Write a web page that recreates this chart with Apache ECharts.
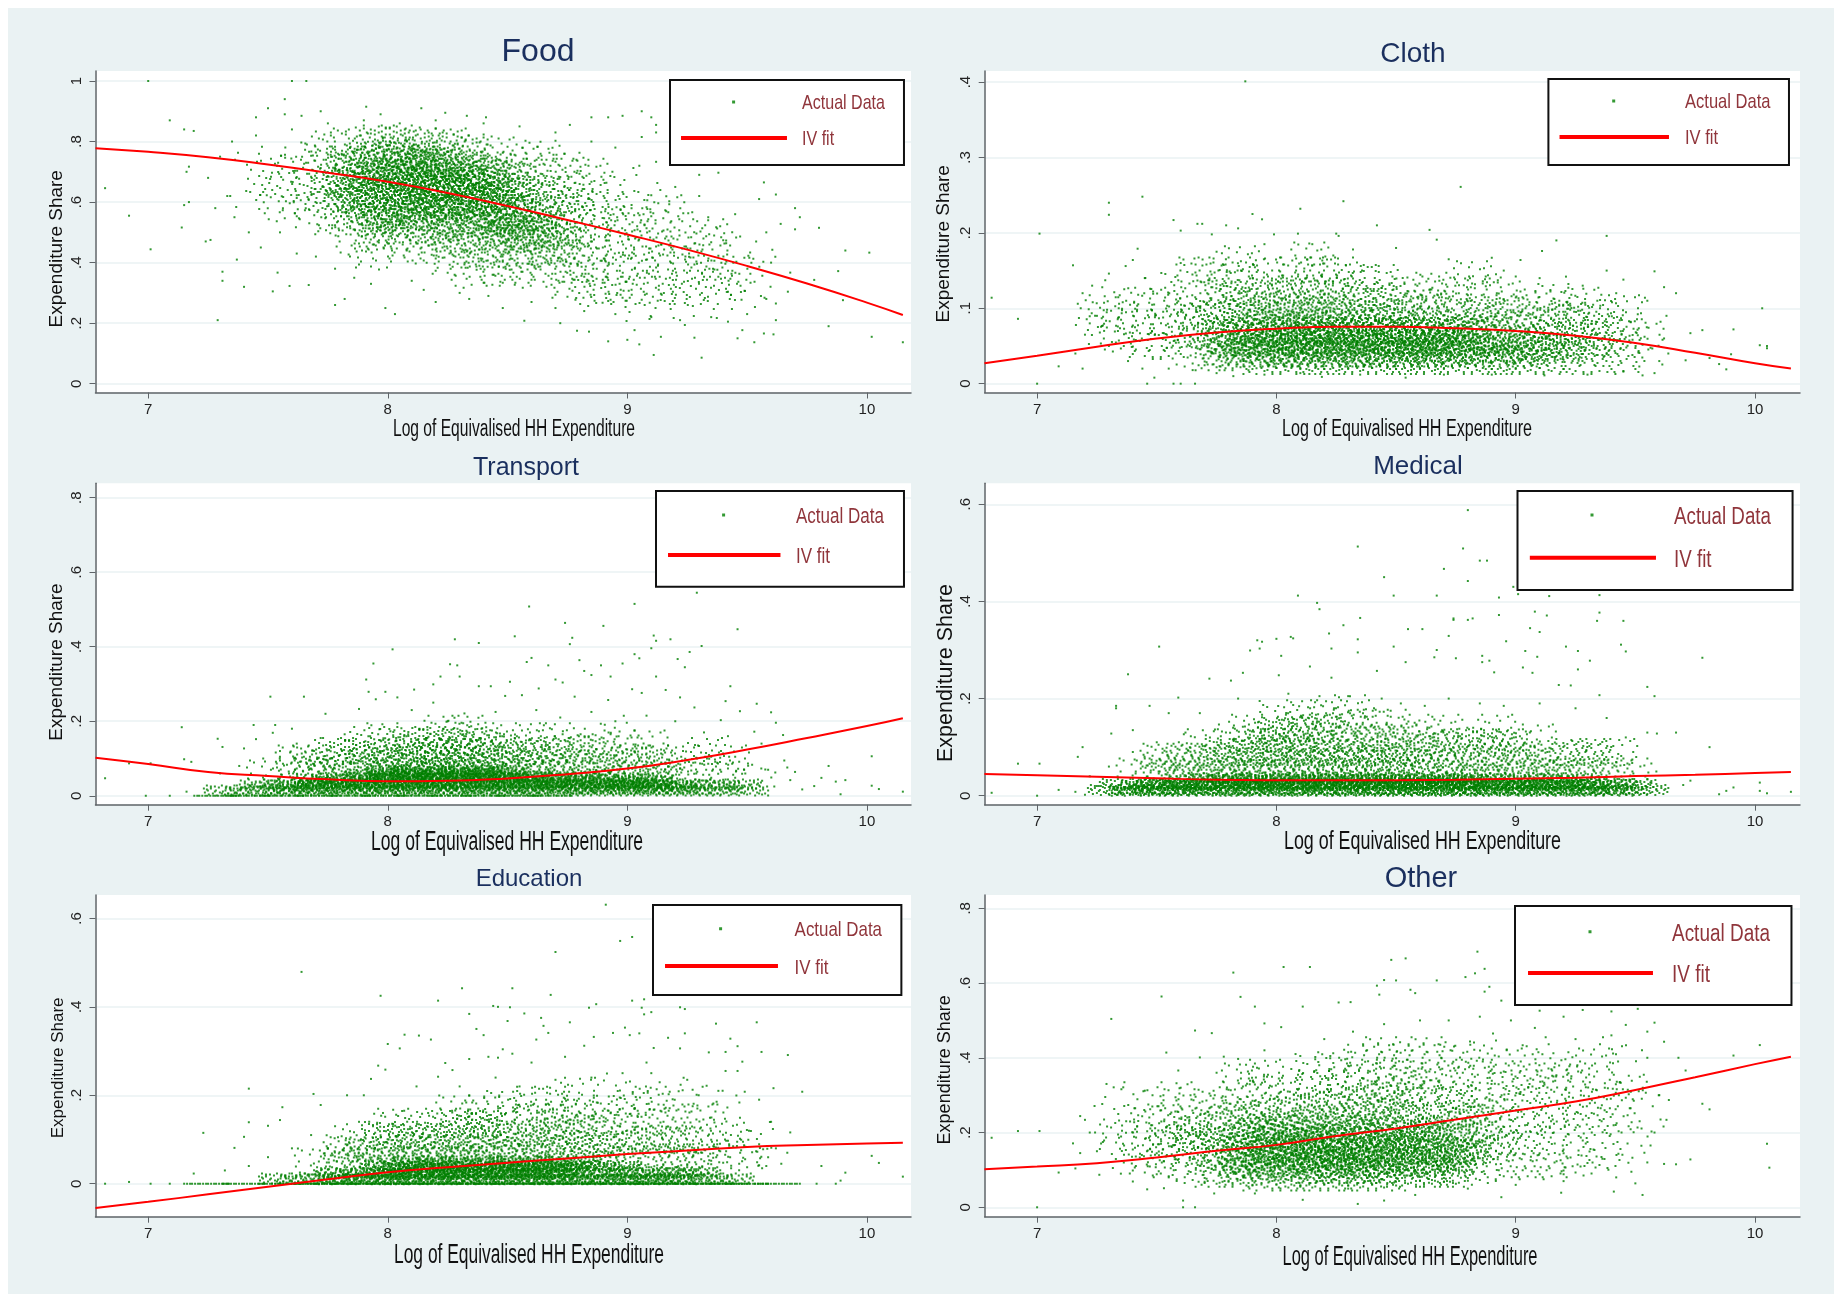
<!DOCTYPE html>
<html><head><meta charset="utf-8">
<style>html,body{margin:0;padding:0;background:#fff}#c{width:1834px;height:1294px}</style>
<script src="https://cdn.jsdelivr.net/npm/echarts@6/dist/echarts.min.js"></script>
</head><body><div id="c"></div>
<script>
// ---------- values (flat x,y,x,y lists) ----------
const xTicks=[7,8,9,10];
const fitX=[6.78,7,7.25,7.5,7.75,8,8.25,8.5,8.75,9,9.25,9.5,9.75,10,10.15];
const foodFit=[.778,.766,.748,.724,.697,.667,.63,.587,.541,.493,.443,.389,.331,.268,.227];
const clothFit=[.027,.037,.049,.06,.068,.073,.0756,.0756,.0734,.07,.0637,.054,.041,.027,.02];
const transportFit=[.102,.085,.0635,.053,.044,.039,.04,.0465,.058,.073,.096,.124,.155,.187,.208];
const medicalFit=[.0446,.042,.039,.0357,.033,.032,.0318,.032,.033,.035,.037,.0405,.043,.0467,.0487];
const educationFit=[-.055,-.041,-.024,-.007,.01,.026,.037,.0475,.057,.067,.075,.083,.0875,.091,.0927];
const otherFit=[.102,.109,.118,.133,.151,.167,.191,.211,.235,.259,.283,.314,.348,.383,.403];
const foodTicks=[0,.2,.4,.6,.8,1],clothTicks=[0,.1,.2,.3,.4],transportTicks=[0,.2,.4,.6,.8],medicalTicks=[0,.2,.4,.6],educationTicks=[0,.2,.4,.6],otherTicks=[0,.2,.4,.6,.8];

const foodPoints=[7,1,7.6,1,7.66,1,7.57,.94,7.5,.91,7.09,.87,7.15,.84,7.19,.835,7.45,.88,7.57,.89,7.64,.885,7.72,.9,7.91,.915,7.97,.89,8.14,.91,8.24,.895,8.33,.885,8.41,.88,8.85,.88,8.92,.88,8.98,.885,9.06,.9,9.1,.88,9.12,.855,8.76,.855,6.82,.646,6.92,.555,7.01,.444,7.14,.516,7.15,.59,7.17,.6,7.17,.717,7.16,.7,7.24,.47,7.26,.475,7.31,.37,7.31,.34,7.4,.32,7.29,.21,7.37,.41,7.52,.305,7.54,.367,7.59,.323,7.67,.326,7.78,.26,7.82,.28,7.99,.25,8.03,.23,8.2,.27,8.34,.28,8.48,.25,8.57,.208,8.72,.2,8.79,.175,8.84,.172,8.92,.14,9,.145,9.05,.13,9.11,.095,9.03,.177,9.14,.155,9.24,.194,9.28,.152,9.31,.086,9.42,.205,9.46,.15,9.53,.137,9.57,.166,9.61,.163,9.62,.21,9.48,.177,9.62,.265,9.67,.304,9.68,.367,9.78,.343,9.88,.372,9.9,.276,9.84,.19,10.02,.155,10.15,.137,9.91,.44,10.01,.433,9.8,.515,9.7,.51,9.72,.55,9.7,.58,9.64,.528,9.62,.625,9.57,.665,9.55,.61,9.38,.697,9.3,.69,9.12,.733,9.06,.815,9.12,.83,7.3,.75,7.25,.68,7.33,.62,7.28,.58,7.36,.55,7.42,.5,7.47,.45,7.55,.5,7.62,.43,7.7,.42,7.78,.38,7.86,.35,7.93,.33,8.1,.34,8.15,.31,8.3,.3,8.42,.29,8.6,.27,8.7,.25,8.82,.24,8.95,.23,9.1,.22,9.22,.21,9.35,.22,9.5,.23,9.58,.28,9.6,.4,9.58,.5,9.45,.56,9.3,.62,9.2,.65,9.05,.72,8.95,.78,8.85,.8,8.7,.83,8.55,.85,8.4,.86,8.2,.87,8.05,.86,7.9,.87,7.75,.86,7.6,.84,7.45,.82,7.35,.8];
const foodCore=[7.45,.72,7.43,.62,7.55,.74,7.53,.66,7.57,.58,7.66,.78,7.63,.71,7.67,.64,7.65,.56,7.75,.79,7.73,.73,7.77,.67,7.74,.61,7.76,.53,7.85,.8,7.83,.74,7.87,.7,7.84,.66,7.86,.61,7.83,.55,7.87,.47,7.95,.81,7.93,.76,7.97,.72,7.94,.68,7.96,.64,7.93,.6,7.97,.55,7.95,.49,7.93,.42,8.05,.81,8.03,.77,8.07,.73,8.04,.7,8.06,.67,8.03,.64,8.07,.6,8.05,.56,8.03,.51,8.07,.45,8.15,.8,8.13,.76,8.17,.73,8.14,.7,8.16,.67,8.13,.64,8.17,.61,8.15,.58,8.13,.54,8.17,.49,8.15,.44,8.25,.8,8.23,.75,8.27,.71,8.24,.68,8.26,.65,8.23,.62,8.27,.59,8.25,.55,8.23,.51,8.27,.46,8.25,.4,8.35,.78,8.33,.73,8.37,.69,8.34,.66,8.36,.63,8.33,.6,8.37,.56,8.35,.52,8.33,.47,8.37,.42,8.35,.36,8.45,.77,8.43,.72,8.47,.68,8.44,.64,8.46,.6,8.43,.56,8.47,.52,8.45,.48,8.43,.43,8.47,.37,8.55,.74,8.53,.7,8.57,.65,8.54,.6,8.56,.55,8.53,.51,8.57,.47,8.55,.42,8.53,.36,8.65,.76,8.63,.7,8.67,.64,8.64,.58,8.66,.53,8.63,.48,8.67,.43,8.65,.37,8.75,.72,8.73,.66,8.77,.6,8.74,.54,8.76,.49,8.73,.44,8.77,.38,8.75,.32,8.85,.7,8.83,.62,8.87,.55,8.84,.49,8.86,.43,8.83,.37,8.87,.3,8.95,.67,8.93,.59,8.97,.52,8.94,.45,8.96,.38,8.93,.31,9.05,.62,9.03,.54,9.07,.46,9.04,.39,9.06,.31,9.03,.25,9.15,.58,9.13,.49,9.17,.41,9.14,.33,9.16,.26,9.25,.55,9.23,.46,9.27,.38,9.24,.3,9.35,.5,9.33,.42,9.37,.33,9.34,.26,9.45,.47,9.43,.38,9.47,.29,9.53,.4,9.51,.32];
const foodDense=[7.82,.72,7.88,.67,7.82,.63,7.88,.58,7.92,.74,7.98,.7,7.92,.66,7.98,.62,7.92,.57,7.98,.53,8.02,.75,8.08,.72,8.02,.68,8.08,.65,8.02,.62,8.08,.58,8.02,.54,8.12,.74,8.18,.71,8.12,.68,8.18,.65,8.12,.62,8.18,.59,8.12,.55,8.22,.73,8.28,.7,8.22,.67,8.28,.64,8.22,.6,8.28,.57,8.22,.53,8.32,.7,8.38,.67,8.32,.65,8.38,.61,8.32,.58,8.38,.54,8.42,.69,8.48,.65,8.42,.62,8.48,.58,8.42,.54,8.48,.5,8.52,.62,8.58,.58,8.52,.53,8.58,.49,8.62,.55,8.68,.5];

const clothPoints=[7.87,.401,8.77,.261,7.44,.248,7.3,.24,7.3,.224,8.28,.242,8.1,.232,7.9,.225,7.94,.218,7.57,.217,7.6,.203,7.01,.199,7.67,.212,7.69,.212,7.79,.21,7.84,.206,7.73,.198,7.99,.198,8.09,.199,8.25,.199,8.26,.196,8.42,.21,8.64,.204,8.67,.191,9.17,.19,9.38,.196,7.42,.179,7.15,.157,6.81,.114,6.92,.086,7.09,.023,7,0,7.19,.02,7.16,.04,7.46,0,7.57,0,7.6,0,7.66,0,7.49,.008,7.19,.12,7.17,.106,7.23,.13,7.3,.146,7.37,.156,7.4,.164,9.11,.176,8.9,.167,9.02,.164,9.38,.15,9.58,.149,9.45,.138,9.62,.128,9.67,.12,9.21,.142,9.54,.114,10.03,.1,9.78,.071,9.91,.072,9.73,.067,10.02,.051,10.05,.05,10.05,.047,9.9,.039,9.81,.034,9.85,.026,9.88,.019,9.71,.031,9.58,.014,9.53,.011,9.12,.011,8.54,.008,8.19,.009,7.82,.01,7.25,.09,7.28,.07,7.22,.08,7.2,.065,7.3,.05,7.38,.03,7.44,.02,7.55,.02,7.65,.018,7.75,.014,7.95,.012,8.1,.014,8.35,.012,8.7,.012,8.9,.012,9.3,.012,9.45,.016,9.6,.03,9.62,.06,9.63,.09,9.55,.11,9.42,.12,9.28,.13,9.1,.14,8.95,.15,8.72,.165,8.5,.18,8.32,.178,8.15,.185,7.95,.185,7.75,.175,7.6,.16,7.45,.14];
const clothCore=[7.25,.07,7.27,.1,7.35,.06,7.33,.09,7.36,.12,7.45,.05,7.43,.08,7.46,.11,7.55,.05,7.53,.08,7.56,.105,7.54,.14,7.65,.04,7.63,.065,7.66,.09,7.64,.12,7.67,.15,7.75,.035,7.73,.055,7.76,.075,7.74,.095,7.77,.12,7.75,.15,7.85,.035,7.83,.05,7.86,.065,7.84,.08,7.87,.095,7.85,.115,7.83,.14,7.86,.165,7.95,.03,7.93,.045,7.96,.055,7.94,.065,7.97,.075,7.95,.09,7.93,.105,7.96,.125,7.94,.15,8.05,.03,8.03,.04,8.06,.05,8.04,.06,8.07,.07,8.05,.08,8.03,.09,8.06,.105,8.04,.125,8.07,.15,8.15,.03,8.13,.04,8.16,.05,8.14,.06,8.17,.07,8.15,.08,8.13,.09,8.16,.105,8.14,.125,8.17,.15,8.15,.17,8.25,.03,8.23,.04,8.26,.05,8.24,.06,8.27,.07,8.25,.08,8.23,.09,8.26,.105,8.24,.125,8.27,.15,8.35,.03,8.33,.04,8.36,.05,8.34,.06,8.37,.07,8.35,.08,8.33,.095,8.36,.115,8.34,.14,8.45,.03,8.43,.04,8.46,.05,8.44,.06,8.47,.07,8.45,.08,8.43,.095,8.46,.115,8.44,.14,8.55,.03,8.53,.04,8.56,.05,8.54,.06,8.57,.07,8.55,.085,8.53,.1,8.56,.125,8.65,.03,8.63,.04,8.66,.05,8.64,.06,8.67,.07,8.65,.085,8.63,.105,8.66,.13,8.75,.03,8.73,.045,8.76,.055,8.74,.065,8.77,.08,8.75,.1,8.73,.125,8.85,.03,8.83,.045,8.86,.06,8.84,.075,8.87,.095,8.85,.12,8.83,.145,8.95,.03,8.93,.045,8.96,.06,8.94,.08,8.97,.1,8.95,.125,9.05,.03,9.03,.045,9.06,.06,9.04,.08,9.07,.105,9.15,.03,9.13,.05,9.16,.07,9.14,.09,9.17,.115,9.25,.03,9.23,.05,9.26,.065,9.24,.09,9.27,.11,9.35,.03,9.33,.05,9.36,.07,9.34,.095,9.45,.03,9.43,.05,9.46,.075,9.44,.1,9.55,.04,9.53,.065];
const clothDense=[7.8,.04,7.9,.055,8,.04,8.1,.055,8.2,.04,8.3,.055,8.4,.04,8.5,.055,8.6,.04,8.7,.055,8.8,.04,8.9,.055,9,.04,7.8,.07,7.9,.04,8,.07,8.1,.04,8.2,.07,8.3,.04,8.4,.07,8.5,.04,8.6,.07,8.7,.04,8.8,.07,8.9,.04,9,.06,7.8,.055,7.9,.07,8,.055,8.1,.07,8.2,.055,8.3,.07,8.4,.055,8.5,.07,8.6,.055,8.7,.07,8.8,.055,9.1,.05,9.2,.045];

const transportPoints=[9.29,.545,8.59,.508,9.03,.515,8.74,.464,8.9,.456,9.46,.447,8.53,.428,8.28,.42,8.38,.41,8.77,.424,8.76,.407,9.11,.43,9.12,.416,9.18,.42,9.1,.396,9.31,.402,8.02,.393,9.03,.38,9.26,.386,7.94,.355,8.26,.353,8.29,.35,8.58,.359,8.6,.37,8.67,.35,8.8,.364,9.21,.367,9.24,.345,8.89,.35,8.98,.355,9.05,.369,8.22,.32,7.91,.312,8.3,.32,9.12,.32,8.93,.32,8.85,.324,8.82,.335,8.7,.312,8.73,.304,8.51,.306,9.43,.294,7.92,.279,7.99,.279,8.11,.285,8.19,.299,8.38,.294,8.43,.294,8.63,.288,9.02,.286,9.16,.284,9.06,.276,7.51,.266,7.65,.266,9.22,.264,8.04,.264,7.95,.259,8.19,.25,8.49,.268,8.56,.27,8.78,.266,8.92,.257,9.41,.254,9.54,.247,9.6,.224,9.47,.227,7.74,.22,7.88,.233,8.32,.221,9.28,.237,9.39,.203,9.62,.196,7.14,.184,7.44,.19,7.53,.19,7.29,.153,7.52,.169,7.6,.18,7.45,.152,7.31,.131,7.4,.127,7.15,.098,7.18,.091,6.82,.047,6.92,.087,7.01,.087,6.99,0,7.09,0,7.16,.011,10.02,.106,9.84,.08,9.7,.064,9.81,.048,9.91,.042,9.87,.038,10.02,.027,10.05,.018,10.15,.011,9.89,.004,9.73,.017,9.78,.026,9.68,.042,9.65,.163,9.53,.172,8.1,.23,8.25,.2,8.45,.225,8.62,.23,8.72,.21,8.85,.225,8.95,.2,9.08,.215,9.2,.2,9.32,.17,9.42,.16,9.56,.14,7.82,.165,7.72,.155,7.62,.14,7.55,.12,7.48,.1,7.38,.08,7.3,.06];
const transportCore=[7.5,.06,7.6,.07,7.62,.1,7.7,.07,7.68,.1,7.8,.06,7.82,.09,7.78,.12,7.9,.06,7.92,.09,7.88,.12,7.91,.15,8,.06,8.02,.08,7.98,.1,8.01,.13,7.99,.16,8.1,.06,8.12,.08,8.08,.1,8.11,.12,8.09,.15,8.2,.06,8.22,.08,8.18,.1,8.21,.12,8.19,.15,8.22,.18,8.3,.06,8.32,.08,8.28,.1,8.31,.12,8.29,.15,8.32,.18,8.4,.06,8.42,.08,8.38,.1,8.41,.13,8.39,.16,8.5,.06,8.52,.085,8.48,.11,8.51,.14,8.6,.06,8.62,.09,8.58,.12,8.61,.16,8.7,.06,8.72,.09,8.68,.12,8.71,.16,8.8,.06,8.82,.09,8.78,.13,8.9,.06,8.92,.09,8.88,.13,8.91,.18,9,.06,9.02,.1,8.98,.14,9.1,.06,9.12,.1,9.08,.14,9.2,.06,9.22,.1,9.3,.07,9.32,.12,9.4,.07,9.42,.1,9.5,.07,9.58,.06];
const transportBase=[7.32,.014,7.41,.014,7.5,.014,7.59,.014,7.68,.014,7.77,.014,7.86,.014,7.95,.014,8.04,.014,8.13,.014,8.22,.014,8.31,.014,8.4,.014,8.49,.014,8.58,.014,8.67,.014,8.76,.014,8.85,.014,8.94,.014,9.03,.014,9.12,.014,9.21,.014,9.3,.014,9.39,.014,9.5,.014,7.47,.03,7.56,.03,7.65,.03,7.74,.03,7.83,.03,7.92,.03,8.01,.03,8.1,.03,8.19,.03,8.28,.03,8.37,.03,8.46,.03,8.55,.03,8.64,.03,8.73,.03,8.82,.03,8.91,.03,9,.03,9.09,.03,9.18,.03,9.27,.03,9.36,.03,9.47,.03,7.68,.046,7.77,.046,7.86,.046,7.95,.046,8.04,.046,8.13,.046,8.22,.046,8.31,.046,8.4,.046,8.49,.046,8.58,.046,8.67,.046,8.76,.046,8.85,.046,8.94,.046,9.03,.046,9.12,.046,8,.06,8.09,.06,8.18,.06,8.27,.06,8.36,.06,8.45,.06];
const transportDense=[7.9,.02,8,.02,8.1,.02,8.2,.02,8.3,.02,8.4,.02,8.5,.02,8.6,.02,8.7,.02,7.9,.036,8,.036,8.1,.036,8.2,.036,8.3,.036,8.4,.036,8.5,.036,8.6,.036,8.7,.036,7.9,.052,8,.052,8.1,.052,8.2,.052,8.3,.052,8.4,.052,8.5,.052,8.6,.052,8.7,.052,8,.066,8.1,.066,8.2,.066,8.3,.066,8.4,.066,8.5,.066,7.6,.02,7.7,.02,7.8,.02,8.8,.02,8.9,.02,9,.02,9.1,.02,9.2,.02,7.7,.036,7.8,.036,8.8,.036,8.9,.036,9,.036,9.1,.036];
const transportZero=[7.28,7.42,7.56,7.7,7.84,7.98,8.12,8.26,8.4,8.54,8.68];

const medicalPoints=[8.8,.588,8.34,.513,8.78,.509,8.85,.484,8.88,.484,8.7,.467,8.45,.45,8.8,.442,8.99,.43,8.09,.412,8.49,.412,8.67,.412,8.93,.408,9.01,.415,9.14,.411,9.35,.413,8.17,.397,8.18,.384,9.08,.379,9.35,.377,8.35,.366,8.93,.372,9.13,.371,8.74,.365,8.74,.362,8.8,.362,8.82,.365,9.34,.36,9.45,.36,8.28,.351,8.55,.343,8.61,.343,9.06,.345,9.1,.337,8.22,.334,8.06,.327,8.07,.324,8.72,.329,7.92,.32,7.94,.317,8.34,.322,8,.323,7.51,.307,8.49,.307,8.96,.318,9.21,.307,9.44,.311,7.89,.299,7.93,.303,8.23,.303,8.34,.295,8.67,.3,9.04,.298,9.26,.298,9.46,.297,8.02,.288,8.66,.285,8.75,.283,8.86,.288,9.09,.286,9.31,.278,9.78,.284,8.89,.278,8.86,.275,8.54,.275,8.14,.266,7.38,.25,7.86,.253,8.42,.257,8.91,.254,9.26,.26,9.03,.264,7.72,.241,7.81,.237,8.23,.243,8.01,.248,9.07,.253,9.55,.224,9.58,.205,9.18,.228,9.23,.227,9.35,.207,7.59,.202,7.33,.185,7.33,.18,7.47,.185,7.55,.17,6.92,.066,7.01,.066,6.81,.006,7,0,7.09,.012,7.17,.08,7.19,.1,7.31,.128,7.4,.135,9.81,.1,9.67,.13,9.59,.128,9.73,.031,9.7,.022,9.91,.017,10.02,.027,10.02,.01,10.05,.005,9.88,.01,9.85,.003,10.15,.008,7.84,.2,7.93,.195,8.05,.21,8.18,.205,8.3,.205,8.44,.2,8.52,.19,8.62,.185,8.72,.2,8.85,.19,8.95,.185,9.1,.19,9.25,.18,9.38,.16,9.46,.12,9.55,.13,7.68,.17,7.62,.13,7.5,.11,7.4,.09,7.3,.06,7.22,.04,7.16,.008,7.2,.002,7.25,.02];
const medicalCore=[7.42,.05,7.5,.05,7.52,.08,7.6,.05,7.62,.08,7.7,.05,7.72,.08,7.68,.11,7.8,.05,7.82,.07,7.78,.09,7.81,.12,7.9,.05,7.92,.07,7.88,.09,7.91,.115,7.89,.14,8,.05,8.02,.07,7.98,.09,8.01,.11,7.99,.135,8.02,.16,8.1,.05,8.12,.07,8.08,.09,8.11,.11,8.09,.14,8.12,.17,8.2,.05,8.22,.07,8.18,.09,8.21,.115,8.19,.14,8.22,.17,8.3,.05,8.32,.07,8.28,.09,8.31,.12,8.29,.15,8.32,.18,8.4,.05,8.42,.07,8.38,.09,8.41,.12,8.39,.15,8.5,.05,8.52,.07,8.48,.09,8.51,.12,8.49,.15,8.6,.05,8.62,.075,8.58,.1,8.61,.13,8.7,.05,8.72,.08,8.68,.11,8.71,.14,8.8,.05,8.82,.08,8.78,.11,8.9,.05,8.92,.08,8.88,.11,8.91,.14,9,.05,9.02,.08,8.98,.11,9.1,.05,9.12,.08,9.08,.12,9.2,.05,9.22,.09,9.3,.05,9.32,.09,9.4,.05,9.42,.09,9.5,.05];
const medicalBase=[7.3,.012,7.39,.012,7.48,.012,7.57,.012,7.66,.012,7.75,.012,7.84,.012,7.93,.012,8.02,.012,8.11,.012,8.2,.012,8.29,.012,8.38,.012,8.47,.012,8.56,.012,8.65,.012,8.74,.012,8.83,.012,8.92,.012,9.01,.012,9.1,.012,9.19,.012,9.28,.012,9.37,.012,9.46,.012,9.55,.012,7.35,.024,7.44,.024,7.53,.024,7.62,.024,7.71,.024,7.8,.024,7.89,.024,7.98,.024,8.07,.024,8.16,.024,8.25,.024,8.34,.024,8.43,.024,8.52,.024,8.61,.024,8.7,.024,8.79,.024,8.88,.024,8.97,.024,9.06,.024,9.15,.024,9.24,.024,9.33,.024,9.42,.024,9.5,.024,7.62,.036,7.71,.036,7.8,.036,7.89,.036,7.98,.036,8.07,.036,8.16,.036,8.25,.036,8.34,.036,8.43,.036,8.52,.036,8.61,.036,8.7,.036,8.79,.036,8.88,.036,8.97,.036,9.06,.036,9.15,.036,9.26,.036];
const medicalDense=[7.8,.01,7.9,.01,8,.01,8.1,.01,8.2,.01,8.3,.01,8.4,.01,8.5,.01,8.6,.01,8.7,.01,8.8,.01,7.8,.022,7.9,.022,8,.022,8.1,.022,8.2,.022,8.3,.022,8.4,.022,8.5,.022,8.6,.022,8.7,.022,8.8,.022,7.8,.032,7.9,.032,8,.032,8.1,.032,8.2,.032,8.3,.032,8.4,.032,8.5,.032,8.6,.032,8.7,.032,8.8,.032,7.4,.01,7.5,.01,7.6,.01,7.7,.01,8.9,.01,9,.01,9.1,.01,9.2,.01,9.3,.01,9.4,.01,7.5,.022,7.6,.022,7.7,.022,8.9,.022,9,.022,9.1,.022,9.2,.022,9.3,.022];

const educationPoints=[8.91,.631,8.97,.549,9.02,.558,8.7,.524,7.64,.479,8.31,.442,8.52,.442,8.68,.427,7.97,.425,8.21,.414,9.07,.417,9.02,.414,8.44,.402,8.46,.4,8.51,.399,8.84,.398,8.87,.406,9.06,.398,9.22,.399,9.24,.395,8.34,.384,9.07,.383,9.1,.388,8.57,.385,8.64,.375,8.5,.368,8.76,.365,8.65,.357,9.37,.362,9.54,.365,8.99,.353,8.37,.35,8.67,.341,8.94,.341,8.07,.337,8.13,.335,8.4,.336,9.05,.34,9.01,.336,9.24,.34,8.18,.326,8.86,.332,9.17,.33,9.43,.328,8,.316,8.05,.306,8.82,.312,8.62,.326,9.11,.307,9.22,.306,9.46,.311,8.48,.304,8.52,.294,9.56,.298,9.67,.291,9.41,.298,9.34,.297,8.34,.282,8.42,.287,8.46,.285,8.74,.287,7.96,.267,8.24,.273,7.99,.258,8.6,.274,9.08,.274,9.48,.276,9.46,.255,9.41,.255,7.93,.237,8.27,.257,8.21,.242,7.42,.215,7.69,.203,9.61,.216,9.73,.208,9.49,.208,7.56,.173,7.83,.2,7.9,.2,7.72,.178,7.42,.139,7.55,.144,7.23,.115,7.5,.131,7.4,.106,7.36,.081,9.68,.116,9.81,.04,10.02,.063,10.05,.047,9.91,.025,10.15,.016,9.89,.007,7.19,.023,6.92,.004,6.82,0,7.01,0,7.09,0,7.15,0,9.72,0,9.79,0,9.87,0,8.12,.22,8.3,.22,8.45,.24,8.55,.22,8.7,.235,8.85,.24,8.98,.25,9.1,.25,9.25,.235,9.38,.21,9.55,.19,9.6,.14,9.62,.08,9.58,.04,7.98,.16,7.88,.14,7.78,.13,7.68,.11,7.6,.08,7.5,.06,7.42,.04,7.32,.03];
const educationCore=[7.7,.05,7.8,.05,7.82,.08,7.9,.05,7.92,.075,7.88,.105,8,.055,8.02,.08,7.98,.11,8.01,.14,8.1,.055,8.12,.08,8.08,.105,8.11,.135,8.2,.055,8.22,.08,8.18,.11,8.21,.14,8.3,.055,8.32,.08,8.28,.105,8.31,.135,8.29,.17,8.4,.055,8.42,.08,8.38,.105,8.41,.135,8.39,.17,8.5,.06,8.52,.085,8.48,.115,8.51,.145,8.49,.18,8.6,.06,8.62,.085,8.58,.115,8.61,.15,8.59,.19,8.7,.06,8.72,.09,8.68,.12,8.71,.15,8.69,.19,8.8,.06,8.82,.09,8.78,.125,8.81,.165,8.79,.21,8.9,.06,8.92,.09,8.88,.13,8.91,.17,9,.06,9.02,.1,8.98,.14,9.01,.18,8.99,.22,9.1,.06,9.12,.1,9.08,.14,9.11,.19,9.2,.06,9.22,.1,9.18,.15,9.21,.2,9.3,.06,9.32,.1,9.28,.15,9.31,.21,9.4,.07,9.42,.12,9.38,.17,9.5,.06,9.52,.11,9.58,.07];
const educationBase=[7.55,.012,7.64,.012,7.73,.012,7.82,.012,7.91,.012,8,.012,8.09,.012,8.18,.012,8.27,.012,8.36,.012,8.45,.012,8.54,.012,8.63,.012,8.72,.012,8.81,.012,8.9,.012,8.99,.012,9.08,.012,9.17,.012,9.26,.012,9.35,.012,9.44,.012,7.78,.026,7.87,.026,7.96,.026,8.05,.026,8.14,.026,8.23,.026,8.32,.026,8.41,.026,8.5,.026,8.59,.026,8.68,.026,8.77,.026,8.86,.026,8.95,.026,9.04,.026,9.13,.026,9.22,.026,9.3,.026,7.98,.04,8.07,.04,8.16,.04,8.25,.04,8.34,.04,8.43,.04,8.52,.04,8.61,.04,8.7,.04,8.79,.04,8.88,.04,8.97,.04];
const educationDense=[8,.01,8.1,.01,8.2,.01,8.3,.01,8.4,.01,8.5,.01,8.6,.01,8.7,.01,8,.022,8.1,.022,8.2,.022,8.3,.022,8.4,.022,8.5,.022,8.6,.022,8.7,.022,8.05,.036,8.15,.036,8.25,.036,8.35,.036,8.45,.036,8.55,.036,8.65,.036,8.75,.036,8.1,.05,8.2,.05,8.3,.05,8.4,.05,8.5,.05,8.6,.05,8.7,.05,8.8,.05,8.8,.01,8.9,.01,9,.01,9.1,.01,9.2,.01,7.8,.01,7.9,.01];
const educationZero=[7.25,7.4,7.55,7.7,7.85,8,8.15,8.3,8.45,8.6,8.75,8.9,9.05,9.2,9.35,9.5,9.62,7.62,7.78,7.92,8.08,8.22,8.38,8.52,8.68,8.82,8.98,9.12,9.28,9.42];

const otherPoints=[8.84,.684,8.48,.662,8.54,.666,8.87,.638,8.03,.643,8.14,.643,7.82,.628,8.83,.626,8.67,.607,8.45,.608,8.5,.607,8.79,.616,8.89,.59,8.42,.593,8.56,.582,8.58,.573,7.52,.564,7.85,.563,8.43,.569,8.87,.577,8.94,.553,8.26,.548,8.31,.549,7.91,.537,8.11,.537,7.31,.504,7.95,.492,8.02,.482,7.66,.473,7.73,.466,9.58,.494,9.51,.531,9.4,.524,9.28,.528,9.1,.526,9.2,.51,9.46,.488,9.55,.47,9.62,.443,10.02,.434,9.91,.406,9.68,.4,9.71,.366,9.64,.287,9.78,.277,9.81,.262,9.63,.234,9.73,.128,9.67,.115,9.62,.116,10.05,.17,10.06,.106,9.53,.033,9.41,.042,9.5,.064,9.19,.039,8.94,.027,8.34,.009,8.45,.018,8.58,.033,8.11,.02,7.61,0,7.66,0,7.61,.018,7,0,6.81,.186,6.92,.204,7.01,.204,7.09,.093,7.16,.104,7.18,.244,7.2,.234,7.24,.271,7.29,.33,7.32,.321,7.36,.321,7.45,.312,7.54,.414,7.59,.366,7.68,.401,7.78,.403,7.84,.397,7.15,.171,7.18,.145,7.26,.087,7.4,.069,7.46,.048,7.53,.051,7.74,.037,7.91,.037,8.01,.053,8.2,.45,8.32,.47,8.45,.49,8.6,.5,8.72,.5,8.85,.51,8.98,.5,9.08,.48,9.25,.45,9.4,.46,9.55,.4,9.6,.3,9.58,.2,9.55,.12,9.42,.08,9.2,.07,9,.06,8.8,.05,8.6,.055,8.3,.05,8.1,.055,7.9,.06,7.7,.065,7.55,.08,7.35,.09,7.25,.15,7.22,.2,7.95,.42,8.08,.41,7.75,.36,7.6,.32];
const otherCore=[7.35,.14,7.33,.2,7.36,.26,7.45,.12,7.43,.17,7.46,.23,7.44,.3,7.55,.11,7.53,.15,7.56,.19,7.54,.24,7.57,.3,7.65,.1,7.63,.14,7.66,.18,7.64,.22,7.67,.27,7.75,.09,7.73,.13,7.76,.16,7.74,.19,7.77,.23,7.75,.28,7.85,.09,7.83,.12,7.86,.15,7.84,.18,7.87,.21,7.85,.25,7.83,.3,7.86,.35,7.95,.08,7.93,.11,7.96,.14,7.94,.16,7.97,.19,7.95,.22,7.93,.26,7.96,.31,7.94,.36,8.05,.08,8.03,.11,8.06,.13,8.04,.15,8.07,.17,8.05,.2,8.03,.23,8.06,.27,8.04,.32,8.15,.08,8.13,.1,8.16,.12,8.14,.14,8.17,.16,8.15,.18,8.13,.21,8.16,.24,8.14,.28,8.17,.33,8.15,.37,8.25,.08,8.23,.1,8.26,.12,8.24,.14,8.27,.16,8.25,.18,8.23,.21,8.26,.24,8.24,.28,8.27,.33,8.25,.38,8.35,.08,8.33,.1,8.36,.12,8.34,.14,8.37,.16,8.35,.19,8.33,.22,8.36,.26,8.34,.3,8.37,.35,8.35,.4,8.45,.08,8.43,.1,8.46,.12,8.44,.15,8.47,.17,8.45,.2,8.43,.23,8.46,.27,8.44,.31,8.47,.36,8.45,.42,8.55,.09,8.53,.12,8.56,.15,8.54,.18,8.57,.21,8.55,.25,8.53,.29,8.56,.34,8.54,.4,8.65,.09,8.63,.12,8.66,.15,8.64,.18,8.67,.21,8.65,.25,8.63,.3,8.66,.35,8.64,.42,8.75,.09,8.73,.13,8.76,.16,8.74,.2,8.77,.24,8.75,.29,8.73,.34,8.76,.4,8.85,.1,8.83,.15,8.86,.2,8.84,.25,8.87,.3,8.85,.36,8.83,.43,8.95,.11,8.93,.17,8.96,.22,8.94,.27,8.97,.33,8.95,.39,9.05,.11,9.03,.17,9.06,.23,9.04,.29,9.07,.35,9.05,.42,9.15,.11,9.13,.18,9.16,.25,9.14,.32,9.17,.38,9.25,.12,9.23,.2,9.26,.28,9.24,.35,9.35,.14,9.33,.22,9.36,.3,9.34,.39,9.45,.13,9.43,.23,9.46,.32,9.44,.42,9.53,.2,9.51,.3];
const otherDense=[7.85,.1,7.95,.13,8.05,.1,8.15,.13,8.25,.1,8.35,.13,8.45,.1,8.55,.13,8.65,.1,8.75,.13,7.85,.16,7.95,.19,8.05,.16,8.15,.19,8.25,.16,8.35,.19,8.45,.16,8.55,.19,8.65,.16,8.75,.19,7.9,.12,8,.15,8.1,.12,8.2,.15,8.3,.12,8.4,.15,8.5,.12,8.6,.15,8.7,.12,8.8,.15,7.9,.18,8,.21,8.1,.18,8.2,.21,8.3,.18,8.4,.21,8.5,.18,8.6,.21];

// ---------- rendering ----------
const GREEN='#007f00',RED='#ff0000',BG='#eaf2f3',SANS='"Liberation Sans",Arial,sans-serif',LEGEND_TEXT='#90353b';
const speck=[[3,0],[11,3],[18,1],[26,4],[33,0],[41,2],[0,7],[7,9],[15,6],[22,9],[30,7],[37,10],[4,13],[12,12],[19,15],[27,12],[34,14],[42,13],[1,18],[9,20],[16,17],[24,20],[31,18],[39,21],[5,24],[13,26],[21,23],[29,26],[36,24],[42,26],[7,2],[22,5],[37,5],[11,16],[26,8],[3,11],[33,21],[18,22]];
const toPath=s=>'path://'+s.map(([x,y])=>`M${x} ${y}h2v2h-2z`).join('');
const mirror=s=>s.map(([x,y])=>[42-x,y]);
const squash=s=>s.map(([x,y])=>[x,Math.round(y*10/26)]);
const SPARSE=[0,6,17,25,9,13,20,28,34];
const tierSets=[speck.filter((_,i)=>SPARSE.includes(i)),speck.filter((_,i)=>i%2==0||[0,6,17,25].includes(i)),speck];
const tallG=tierSets.map(s=>[toPath(s),toPath(mirror(s))]);
const lowG=tierSets.map(s=>[toPath(squash(s)),toPath(mirror(squash(s)))]);
const rowPath=toPath([0,3,5,8,11,13,16,19,21,24,27,29,32,35,37,40,42].map(x=>[x,0]));
const pairs=a=>{const r=[];for(let i=0;i<a.length;i+=2)r.push([a[i],a[i+1]]);return r};
const panels=[
 {title:'Food',tf:32,tx:533,ty:47,points:foodPoints,core:foodCore,dense:foodDense,cut:[.15,.32],fit:foodFit,ticks:foodTicks,grid:[95.5,71,815.5,321.5],y:[-.029,1.033],name:[514,430,242,23.5],yf:19,ygap:29,ys:34,xmin:6.78,xmax:10.184,
  lg:{box:[670,80,904,165],dot:[733.6,102],line:[681,787,138],tx:802,tf:21,tw:83,ty:1}},
 {title:'Cloth',tf:28,tx:1408,ty:49,points:clothPoints,core:clothCore,dense:clothDense,cut:[.15,.32],fit:clothFit,ticks:clothTicks,grid:[984.7,71,815.3,321.5],y:[-.0117,.4147],name:[1407,430,250,23],yf:19,ygap:31,ys:24,xmin:6.781,xmax:10.188,
  lg:{box:[1548.4,79,1789,165],dot:[1613.7,101],line:[1559.5,1669,137],tx:1685,tf:21,tw:85.5,ty:1}},
 {title:'Transport',tf:25,tx:521,ty:463,points:transportPoints,core:transportCore,base:transportBase,dense:transportDense,denseLow:true,cut:[.18,.38],zero:transportZero,fit:transportFit,ticks:transportTicks,grid:[95.5,483.3,815.5,321.4],y:[-.024,.8387],name:[507,843,272,27],yf:19,ygap:29,ys:36,xmin:6.78,xmax:10.184,
  lg:{box:[656,491,904,586.7],dot:[723.6,515],line:[668,780.5,555],tx:796,tf:22,tw:88,ty:2}},
 {title:'Medical',tf:26,tx:1413,ty:462,points:medicalPoints,core:medicalCore,base:medicalBase,dense:medicalDense,denseLow:true,cut:[.18,.38],fit:medicalFit,ticks:medicalTicks,grid:[984.7,483.3,815.3,321.4],y:[-.0185,.6432],name:[1422.5,842,277,25],yf:21.5,ygap:28,ys:58,xmin:6.781,xmax:10.188,
  lg:{box:[1517.5,491,1792.6,590],dot:[1592,515],line:[1529.8,1656,557.7],tx:1674,tf:23,tw:97,ty:3}},
 {title:'Education',tf:24,tx:524,ty:874,points:educationPoints,core:educationCore,base:educationBase,dense:educationDense,denseLow:true,cut:[.18,.38],zero:educationZero,fit:educationFit,ticks:educationTicks,grid:[95.5,895,815.5,321.7],y:[-.0746,.6529],name:[529,1256,270,27],yf:17,ygap:29,ys:24,xmin:6.78,xmax:10.184,
  lg:{box:[653,905,901.4,995],dot:[720.6,928.7],line:[665,778,966],tx:794.6,tf:21,tw:87.4,ty:2}},
 {title:'Other',tf:29,tx:1416,ty:874,points:otherPoints,core:otherCore,dense:otherDense,cut:[.15,.32],fit:otherFit,ticks:otherTicks,grid:[984.7,895,815.3,321.7],y:[-.0252,.8356],name:[1410,1258,255,27],yf:18,ygap:31,ys:28,xmin:6.781,xmax:10.188,
  lg:{box:[1515,906,1791.5,1005],dot:[1590,931.7],line:[1528,1653,973],tx:1672,tf:23,tw:98,ty:3}}
];
const ctx=document.createElement('canvas').getContext('2d');
const condensed=(text,font,w)=>{ctx.font=`${font}px "Liberation Sans"`;return w/ctx.measureText(text).width};
const grid=[],xAxis=[],yAxis=[],series=[],legend=[],title=[];
const graphic=[{type:'rect',z:-10,silent:true,shape:{x:8,y:8,width:1826,height:1286},style:{fill:BG}}];
const AX={lineStyle:{color:'#5f6468',width:1.5}},TK={length:6,lineStyle:{color:'#5f6468',width:1}};
panels.forEach((p,i)=>{
 grid.push({left:p.grid[0],top:p.grid[1],width:p.grid[2],height:p.grid[3],show:true,backgroundColor:'#fff',borderWidth:0});
 xAxis.push({gridIndex:i,type:'value',min:p.xmin,max:p.xmax,splitLine:{show:false},axisLine:{...AX,onZero:false},axisTick:{...TK,customValues:xTicks},
  axisLabel:{customValues:xTicks,margin:10,fontFamily:SANS,fontSize:15,color:'#222'}});
 yAxis.push({gridIndex:i,type:'value',min:p.y[0],max:p.y[1],splitLine:{show:true,lineStyle:{color:BG,width:1.5}},axisLine:{...AX,onZero:false},axisTick:{...TK,customValues:p.ticks},
  axisLabel:{customValues:p.ticks,rotate:90,margin:11,fontFamily:SANS,fontSize:15,color:'#222',formatter:v=>String(v).replace(/^0\./,'.')},
  name:'Expenditure Share',nameLocation:'middle',nameGap:p.ygap,nameTextStyle:{fontFamily:SANS,fontSize:p.yf,color:'#111',padding:[0,p.ys,0,0]}});
 title.push({text:p.title,left:p.tx,top:p.ty,textAlign:'center',textVerticalAlign:'middle',textStyle:{fontFamily:SANS,fontWeight:'normal',fontSize:p.tf,color:'#1a2f5e'}});
 // marker density follows how crowded each anchor's neighbourhood is, so the cloud fades at its edges
 const sx=p.grid[2]/(p.xmax-p.xmin),sy=p.grid[3]/(p.y[1]-p.y[0]);
 const core=pairs(p.core),base=p.base?pairs(p.base):[],dense=pairs(p.dense),all=core.concat(base,dense);
 const crowd=q=>all.filter(a=>Math.hypot((a[0]-q[0])*sx,(a[1]-q[1])*sy)<42).length;
 const maxN=Math.max(...all.map(crowd));
 const tierOf=q=>{const r=crowd(q)/maxN;return r<p.cut[0]?0:r<p.cut[1]?1:2};
 const coreT=core.map(tierOf);
 const sc={type:'scatter',name:'Actual Data',xAxisIndex:i,yAxisIndex:i,itemStyle:{color:GREEN},silent:true,clip:true};
 series.push({...sc,data:core,symbol:(v,q)=>tallG[coreT[q.dataIndex]][q.dataIndex%2],symbolSize:[44,28]});
 if(p.base)series.push({...sc,data:base,symbol:(v,q)=>lowG[2][q.dataIndex%2],symbolSize:[44,12]});
 series.push({...sc,data:dense,symbol:(v,q)=>(p.denseLow?lowG:tallG)[2][q.dataIndex%2],symbolSize:p.denseLow?[44,12]:[44,28]});
 if(p.zero)series.push({...sc,data:p.zero.map(x=>[x,0]),symbol:rowPath,symbolSize:[44,2]});
 series.push({...sc,data:pairs(p.points),symbol:'rect',symbolSize:2});
 series.push({type:'line',name:'IV fit',xAxisIndex:i,yAxisIndex:i,data:fitX.map((x,k)=>[x,p.fit[k]]),smooth:true,showSymbol:false,lineStyle:{color:RED,width:2},itemStyle:{color:RED},silent:true,z:5});
 const g=p.lg,W=g.tx-5-g.line[0],H=20,corner=`M0 0h.01v.01zM${W} ${H}h.01v.01z`,dx=g.dot[0]-g.line[0],lw=g.line[1]-g.line[0];
 legend.push({left:g.box[0],top:g.box[1],orient:'vertical',selectedMode:false,backgroundColor:'#fff',borderColor:'#111',borderWidth:2,borderRadius:0,z:8,
  padding:[g.dot[1]-10-g.box[1],g.box[2]-g.tx+5,g.box[3]-g.line[2]-10,g.line[0]-g.box[0]],itemWidth:W,itemHeight:H,itemGap:g.line[2]-g.dot[1]-H,
  formatter:()=>'',textStyle:{fontSize:10},
  data:[{name:'Actual Data',icon:`path://${corner}M${dx-1.5} 8.5h3v3h-3z`},{name:'IV fit',icon:`path://${corner}M0 8h${lw}v4h-${lw}z`}]});
 // the source's text is condensed; no condensed face is installed, so real text is scaled horizontally
 const nameText='Log of Equivalised HH Expenditure';
 graphic.push({type:'text',z:20,silent:true,x:p.name[0],y:p.name[1],scaleX:condensed(nameText,p.name[3],p.name[2]),style:{text:nameText,fontFamily:'Liberation Sans',fontSize:p.name[3],fill:'#111',align:'center',verticalAlign:'middle'}});
 const k=condensed('Actual Data',g.tf,g.tw);
 [['Actual Data',g.dot[1]],['IV fit',g.line[2]]].forEach(([t,y])=>graphic.push({type:'text',z:20,silent:true,x:g.tx,y:y+g.ty,scaleX:k,style:{text:t,fontFamily:'Liberation Sans',fontSize:g.tf,fill:LEGEND_TEXT,align:'left',verticalAlign:'middle'}}));
});
const chart=echarts.init(document.getElementById('c'),null,{renderer:'canvas'});
chart.setOption({animation:false,backgroundColor:'#fff',title,grid,xAxis,yAxis,series,legend,graphic});
</script></body></html>
